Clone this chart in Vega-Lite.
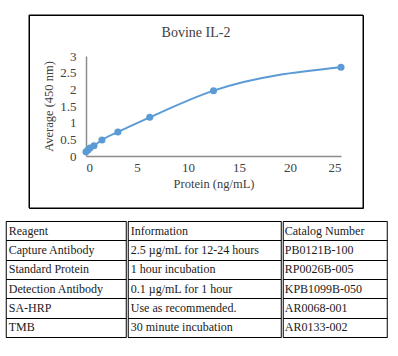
{
  "$schema": "https://vega.github.io/schema/vega-lite/v6.json",
  "background": "white",
  "padding": {"left": 4.5, "top": 14, "right": 0, "bottom": 0},
  "config": {
    "font": "Liberation Serif",
    "view": {"stroke": "#000000", "strokeWidth": 1},
    "axis": {"minExtent": 0}
  },
  "datasets": {
    "curve": [
      {"conc": 0, "od": 0.13},
      {"conc": 0.195, "od": 0.18},
      {"conc": 0.39, "od": 0.24},
      {"conc": 0.78, "od": 0.31},
      {"conc": 1.5625, "od": 0.48},
      {"conc": 3.125, "od": 0.72},
      {"conc": 6.25, "od": 1.16},
      {"conc": 12.5, "od": 1.96},
      {"conc": 25, "od": 2.66}
    ],
    "frame": [{"part": "chart frame"}],
    "table": [
      {"r": 0, "reagent": "Reagent", "info": "Information", "catalog": "Catalog Number"},
      {"r": 1, "reagent": "Capture Antibody", "info": "2.5 µg/mL for 12-24 hours", "catalog": "PB0121B-100"},
      {"r": 2, "reagent": "Standard Protein", "info": "1 hour incubation", "catalog": "RP0026B-005"},
      {"r": 3, "reagent": "Detection Antibody", "info": "0.1 µg/mL for 1 hour", "catalog": "KPB1099B-050"},
      {"r": 4, "reagent": "SA-HRP", "info": "Use as recommended.", "catalog": "AR0068-001"},
      {"r": 5, "reagent": "TMB", "info": "30 minute incubation", "catalog": "AR0133-002"}
    ]
  },
  "center": true,
  "spacing": 11,
  "vconcat": [
    {
      "width": 334,
      "height": 193,
      "view": {"stroke": "#000000", "strokeWidth": 1},
      "title": {
        "text": "Bovine IL-2",
        "fontSize": 14,
        "fontWeight": "normal",
        "color": "#404040",
        "font": "Liberation Serif",
        "offset": -25
      },
      "layer": [
        {
          "data": {"name": "frame"},
          "mark": {"type": "rect", "fill": null, "stroke": "#000000", "strokeWidth": 1},
          "encoding": {}
        },
        {
          "data": {"name": "curve"},
          "encoding": {
            "x": {
              "field": "conc",
              "type": "quantitative",
              "scale": {"domain": [0, 25], "range": [57, 312], "nice": false, "zero": false},
              "axis": {
                "title": "Protein (ng/mL)",
                "values": [0, 5, 10, 15, 20, 25],
                "format": "~g",
                "offset": -52,
                "grid": false,
                "ticks": false,
                "labelPadding": 5,
                "labelFontSize": 13,
                "labelColor": "#404040",
                "titleFontSize": 12.5,
                "titleFontWeight": "normal",
                "titleColor": "#404040",
                "titlePadding": 3,
                "domainColor": "#8c8c8c",
                "domainWidth": 1.5
              }
            },
            "y": {
              "field": "od",
              "type": "quantitative",
              "scale": {"domain": [0, 3], "range": [141, 41], "nice": false, "zero": false},
              "axis": {
                "title": "Average (450 nm)",
                "values": [0, 0.5, 1, 1.5, 2, 2.5, 3],
                "format": "~g",
                "offset": -57,
                "grid": false,
                "ticks": false,
                "labelPadding": 10,
                "labelFontSize": 13,
                "labelColor": "#404040",
                "titleFontSize": 12.5,
                "titleFontWeight": "normal",
                "titleColor": "#404040",
                "titlePadding": 4,
                "domainColor": "#8c8c8c",
                "domainWidth": 1.5
              }
            }
          },
          "layer": [
            {"mark": {"type": "line", "interpolate": "monotone", "color": "#5B9BD5", "strokeWidth": 2}},
            {"mark": {"type": "point", "filled": true, "opacity": 1, "color": "#5B9BD5", "size": 50}}
          ]
        }
      ]
    },
    {
      "hconcat": [
        {
          "width": 120,
          "height": 116,
          "data": {"name": "table"},
          "mark": {"type": "text", "align": "left", "baseline": "middle", "dx": 3, "fontSize": 12, "font": "Liberation Serif", "color": "#1a1a1a"},
          "encoding": {
            "x": {"value": 0},
            "y": {"field": "r", "type": "ordinal", "scale": {"paddingInner": 0, "paddingOuter": 0},
              "axis": {"title": null, "labels": false, "ticks": false, "domain": false, "grid": true, "gridColor": "#000000", "gridOpacity": 1, "gridWidth": 1, "tickBand": "extent", "minExtent": 0, "maxExtent": 0, "offset": 0, "labelPadding": 0, "tickSize": 0}},
            "text": {"field": "reagent"}
          }
        },
        {
          "width": 153,
          "height": 116,
          "data": {"name": "table"},
          "mark": {"type": "text", "align": "left", "baseline": "middle", "dx": 3, "fontSize": 12, "font": "Liberation Serif", "color": "#1a1a1a"},
          "encoding": {
            "x": {"value": 0},
            "y": {"field": "r", "type": "ordinal", "scale": {"paddingInner": 0, "paddingOuter": 0},
              "axis": {"title": null, "labels": false, "ticks": false, "domain": false, "grid": true, "gridColor": "#000000", "gridOpacity": 1, "gridWidth": 1, "tickBand": "extent", "minExtent": 0, "maxExtent": 0, "offset": 0, "labelPadding": 0, "tickSize": 0}},
            "text": {"field": "info"}
          }
        },
        {
          "width": 104,
          "height": 116,
          "data": {"name": "table"},
          "mark": {"type": "text", "align": "left", "baseline": "middle", "dx": 2, "fontSize": 12, "font": "Liberation Serif", "color": "#1a1a1a"},
          "encoding": {
            "x": {"value": 0},
            "y": {"field": "r", "type": "ordinal", "scale": {"paddingInner": 0, "paddingOuter": 0},
              "axis": {"title": null, "labels": false, "ticks": false, "domain": false, "grid": true, "gridColor": "#000000", "gridOpacity": 1, "gridWidth": 1, "tickBand": "extent", "minExtent": 0, "maxExtent": 0, "offset": 0, "labelPadding": 0, "tickSize": 0}},
            "text": {"field": "catalog"}
          }
        }
      ],
      "spacing": 0
    }
  ]
}
